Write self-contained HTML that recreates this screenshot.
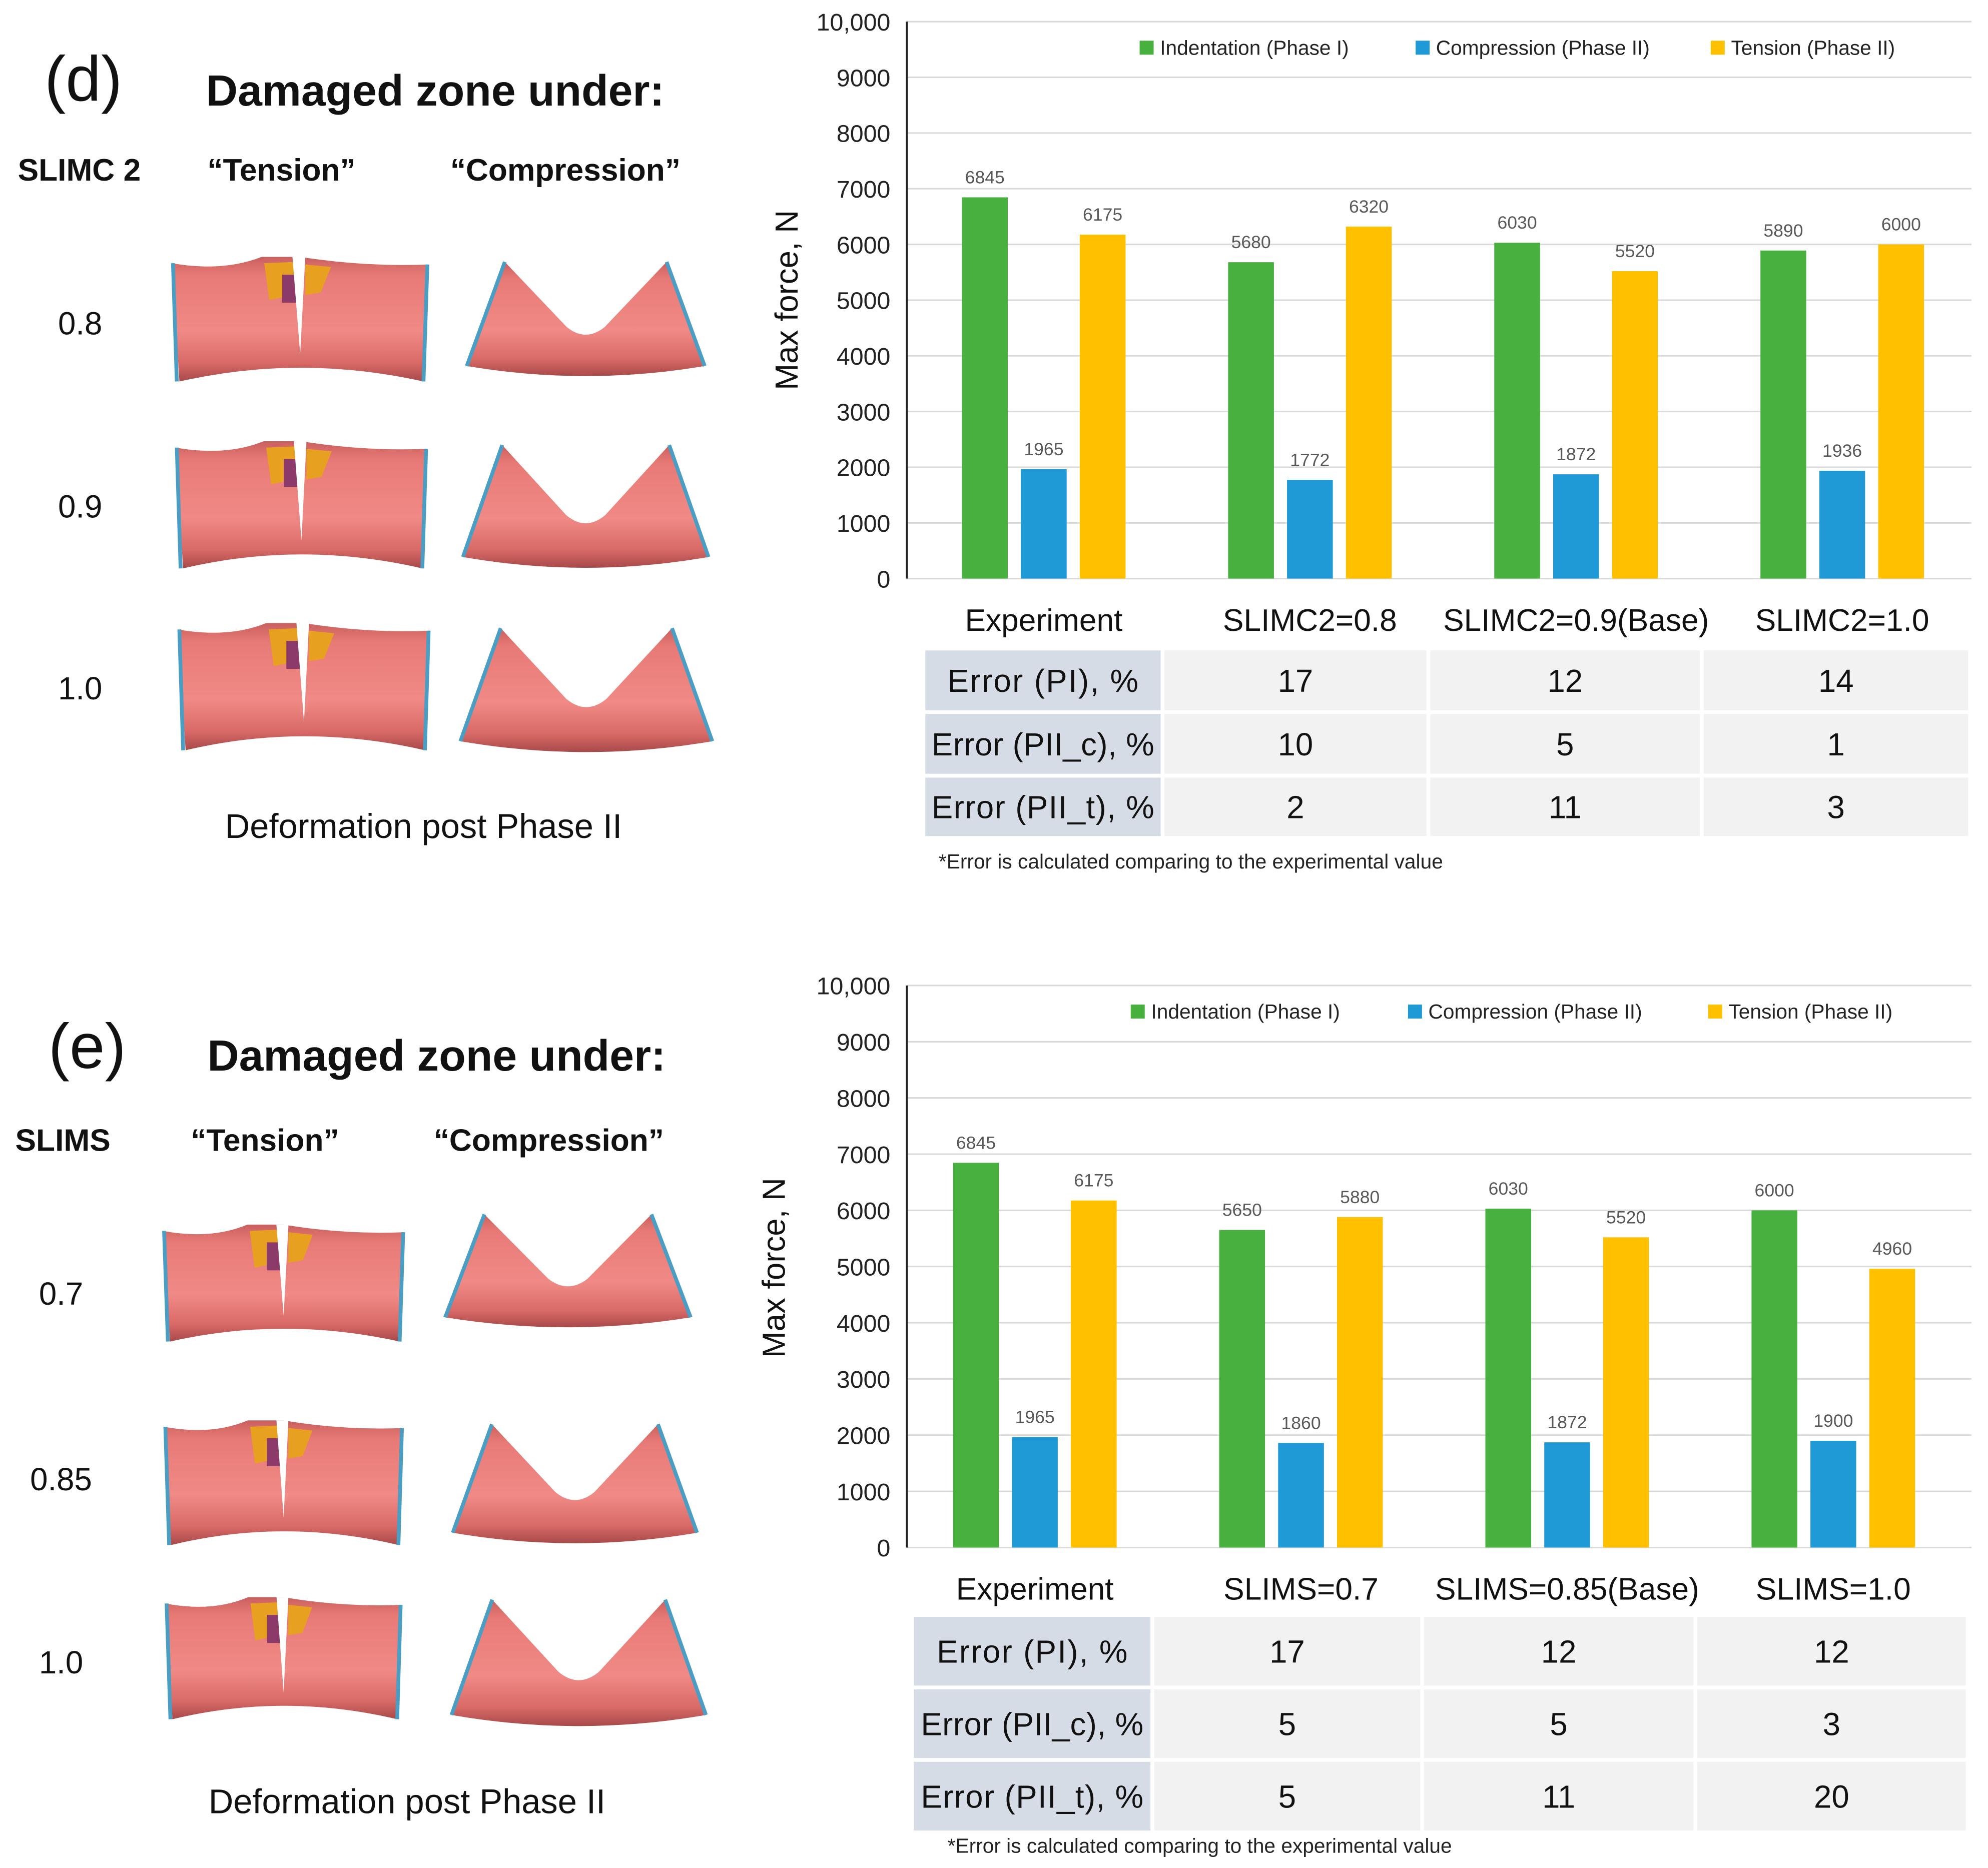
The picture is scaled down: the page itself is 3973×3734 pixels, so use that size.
<!DOCTYPE html>
<html><head><meta charset="utf-8"><style>
html,body{margin:0;padding:0;background:#fff;}
svg{display:block;font-family:"Liberation Sans",sans-serif;}
</style></head><body>
<svg id="root" width="3973" height="3734" viewBox="0 0 1563 1469" preserveAspectRatio="none" xmlns="http://www.w3.org/2000/svg">
<defs>
<linearGradient id="tg" x1="0" y1="0" x2="0" y2="1">
<stop offset="0" stop-color="#c9605e"/><stop offset="0.15" stop-color="#e87a76"/><stop offset="0.6" stop-color="#f08a86"/><stop offset="0.85" stop-color="#d96a67"/><stop offset="1" stop-color="#a84a4a"/>
</linearGradient>
</defs>
<g id="left"></g>
<g id="chartD"></g>
<g id="chartE"></g>
</svg>
<script>
const categoriesD = ["Experiment","SLIMC2=0.8","SLIMC2=0.9(Base)","SLIMC2=1.0"];
const indentationD = [6845,5680,6030,5890];
const compressionD = [1965,1772,1872,1936];
const tensionD = [6175,6320,5520,6000];
const errPI_D = ["17","12","14"];
const errPIIc_D = ["10","5","1"];
const errPIIt_D = ["2","11","3"];

const categoriesE = ["Experiment","SLIMS=0.7","SLIMS=0.85(Base)","SLIMS=1.0"];
const indentationE = [6845,5650,6030,6000];
const compressionE = [1965,1860,1872,1900];
const tensionE = [6175,5880,5520,4960];
const errPI_E = ["17","12","12"];
const errPIIc_E = ["5","5","3"];
const errPIIt_E = ["5","11","20"];

const yTicks = [0,1000,2000,3000,4000,5000,6000,7000,8000,9000,10000];
const yTickLabels = ["0","1000","2000","3000","4000","5000","6000","7000","8000","9000","10,000"];
const seriesNames = ["Indentation (Phase I)","Compression (Phase II)","Tension (Phase II)"];
const rowLabels = ["Error (PI), %","Error (PII_c), %","Error (PII_t), %"];
const colors = ["#47b03f","#1f9ad6","#ffc000"];

const NS="http://www.w3.org/2000/svg";
function mk(parent,tag,attrs,text){
  const e=document.createElementNS(NS,tag);
  for(const k in attrs) e.setAttribute(k,attrs[k]);
  if(text!==undefined) e.textContent=text;
  parent.appendChild(e); return e;
}

function drawChart(g, o, cats, ser, errs){
  const y=v=>o.y0-(v/10000)*(o.y0-o.y10);
  const band=(o.x1-o.x0)/cats.length;
  yTicks.forEach((t,i)=>{
    const l=mk(g,'line',{x1:o.x0,x2:o.x1,y1:y(t),y2:y(t),stroke:'#d9d9d9','stroke-width':1.2});
    
    
    const tx=mk(g,'text',{x:o.x0-13,y:y(t)+7,'text-anchor':'end','font-size':19,fill:'#222'},yTickLabels[i]);
    
    
  });
  const ax=mk(g,'line',{x1:o.x0,x2:o.x0,y1:o.y10,y2:o.y0,stroke:'#222','stroke-width':1.5});
  
  
  const yt=mk(g,'text',{x:0,y:0,transform:`translate(${o.ytx},${o.yty}) rotate(-90)`,'text-anchor':'middle','font-size':25,fill:'#111'},'Max force, N');
  
  
  const bw=36, step=46.3;
  cats.forEach((c,ci)=>{
    const cx=o.x0+band*ci+band/2+o.off;
    ser.forEach((s,si)=>{
      const bx=cx+(si-1)*step-bw/2;
      const r=mk(g,'rect',{x:bx,y:y(s[ci]),width:bw,height:o.y0-y(s[ci]),fill:colors[si]});
      
      
      const lt=mk(g,'text',{x:bx+bw/2,y:y(s[ci])-11,'text-anchor':'middle','font-size':14,fill:'#595959'},String(s[ci]));
      
      
    });
    const cl=mk(g,'text',{x:cx,y:o.catY,'text-anchor':'middle','font-size':24.5,fill:'#111'},c);
    
    
  });
  let lx=o.legX;
  seriesNames.forEach((n,i)=>{
    const sq=mk(g,'rect',{x:lx,y:o.legY-6,width:11,height:11,fill:colors[i]});
    
    
    const t=mk(g,'text',{x:lx+16,y:o.legY+5,'font-size':16,fill:'#222'},n);
    
    
    lx+=o.legGap[i];
  });
  const cx=o.cols, ry=o.rows;
  for(let r=0;r<3;r++){
    for(let c=0;c<4;c++){
      const cell=mk(g,'rect',{x:cx[c]+1.5,y:ry[r]+1.5,width:cx[c+1]-cx[c]-3,height:ry[r+1]-ry[r]-3,fill:c===0?'#d6dce5':'#f2f2f2'});
      
      
      const txt=c===0?rowLabels[r]:errs[r][c-1];
      const tt=mk(g,'text',{x:(cx[c]+cx[c+1])/2,y:(ry[r]+ry[r+1])/2+9,'text-anchor':'middle','font-size':25,fill:'#111'},txt);
      if(c===0) tt.setAttribute('textLength',Math.min(cx[1]-cx[0]-10, r===0?150:175));
      
      
    }
  }
  const nt=mk(g,'text',{x:o.noteX,y:o.noteY,'font-size':16,fill:'#222'},'*Error is calculated comparing to the experimental value');
  
  
}

drawChart(document.getElementById('chartD'),
 {x0:713,x1:1550,y0:455,y10:17,ytx:627,yty:236,off:3,catY:496,legX:896,legY:38,legGap:[217,232,0],
  cols:[726,914,1123,1338,1549],rows:[510,560,610,659],noteX:738,noteY:683},
 categoriesD,[indentationD,compressionD,tensionD],[errPI_D,errPIIc_D,errPIIt_D]);
drawChart(document.getElementById('chartE'),
 {x0:713,x1:1550,y0:1217,y10:775,ytx:617,yty:997,off:-4,catY:1258,legX:889,legY:796,legGap:[218,236,0],
  cols:[717,906,1118,1333,1547],rows:[1270,1327,1384,1441],noteX:745,noteY:1457},
 categoriesE,[indentationE,compressionE,tensionE],[errPI_E,errPIIc_E,errPIIt_E]);

const L=document.getElementById('left');
function txt(x,y,s,size,weight,anchor,name){
  const t=mk(L,'text',{x:x,y:y,'font-size':size,'font-weight':weight||'normal','text-anchor':anchor||'start',fill:'#111'},s);
  
  
}
function tensionTube(x,y,w,h,name){
  const g=mk(L,'g',{transform:`translate(${x},${y})`});
  
  
  mk(g,'path',{d:`M0,5 Q${w*0.2},12 ${w*0.35},0 L${w*0.5},0 Q${w*0.75},8 ${w},6 L${w*0.98},${h} Q${w*0.5},${h*0.78} ${w*0.03},${h} Z`,fill:'url(#tg)'});
  mk(g,'line',{x1:1,y1:5,x2:4,y2:h,stroke:'#4a9ec4','stroke-width':3});
  mk(g,'line',{x1:w-1,y1:6,x2:w*0.98,y2:h,stroke:'#4a9ec4','stroke-width':3});
  mk(g,'path',{d:`M${w*0.36},5 L${w*0.48},4 L${w*0.47},30 L${w*0.38},34 Z`,fill:'#e8a020'});
  mk(g,'rect',{x:w*0.43,y:14,width:w*0.06,height:22,fill:'#8b3a6a'});
  mk(g,'path',{d:`M${w*0.52},6 L${w*0.62},8 L${w*0.58},28 L${w*0.52},30 Z`,fill:'#e8a020'});
  mk(g,'path',{d:`M${w*0.47},0 L${w*0.52},0 L${w*0.5},${h*0.78} Z`,fill:'#fff'});
}
function compTube(x,y,w,h,name){
  const g=mk(L,'g',{transform:`translate(${x},${y})`});
  
  
  mk(g,'path',{d:`M0,${h*0.88} L${w*0.16},0 L${w*0.42},${h*0.55} Q${w*0.5},${h*0.68} ${w*0.58},${h*0.55} L${w*0.84},0 L${w},${h*0.88} Q${w*0.5},${h*1.05} 0,${h*0.88} Z`,fill:'url(#tg)'});
  mk(g,'line',{x1:0,y1:h*0.88,x2:w*0.16,y2:0,stroke:'#4a9ec4','stroke-width':3});
  mk(g,'line',{x1:w,y1:h*0.88,x2:w*0.84,y2:0,stroke:'#4a9ec4','stroke-width':3});
}
txt(35,79,'(d)',50,'normal','start','panel-label-d');
txt(162,83,'Damaged zone under:',34.5,'bold','start','panel-title-d');
txt(14,142,'SLIMC 2',24.5,'bold','start','param-header');
txt(163,142,'“Tension”',24.5,'bold','start','tension-header');
txt(354,142,'“Compression”',24.5,'bold','start','compression-header');
txt(63,263,'0.8',25,'normal','middle','param-value');
txt(63,407,'0.9',25,'normal','middle','param-value');
txt(63,550,'1.0',25,'normal','middle','param-value');
tensionTube(135,202,202,98,'tension-tube-0.8');
tensionTube(138,347,198,100,'tension-tube-0.9');
tensionTube(140,490,198,100,'tension-tube-1.0');
compTube(367,206,187,93,'compression-tube-0.8');
compTube(364,350,193,100,'compression-tube-0.9');
compTube(362,494,198,101,'compression-tube-1.0');
txt(333,659,'Deformation post Phase II',27,'normal','middle','deformation-caption');

txt(38,840,'(e)',50,'normal','start','panel-label-e');
txt(163,842,'Damaged zone under:',34.5,'bold','start','panel-title-e');
txt(12,905,'SLIMS',24.5,'bold','start','param-header');
txt(150,905,'“Tension”',24.5,'bold','start','tension-header');
txt(341,905,'“Compression”',24.5,'bold','start','compression-header');
txt(48,1026,'0.7',25,'normal','middle','param-value');
txt(48,1172,'0.85',25,'normal','middle','param-value');
txt(48,1316,'1.0',25,'normal','middle','param-value');
tensionTube(128,963,190,92,'tension-tube-0.7');
tensionTube(129,1117,188,98,'tension-tube-0.85');
tensionTube(130,1256,186,96,'tension-tube-1.0');
compTube(350,955,193,92,'compression-tube-0.7');
compTube(356,1120,192,97,'compression-tube-0.85');
compTube(355,1258,200,103,'compression-tube-1.0');
txt(320,1426,'Deformation post Phase II',27,'normal','middle','deformation-caption');
</script>
</body></html>
